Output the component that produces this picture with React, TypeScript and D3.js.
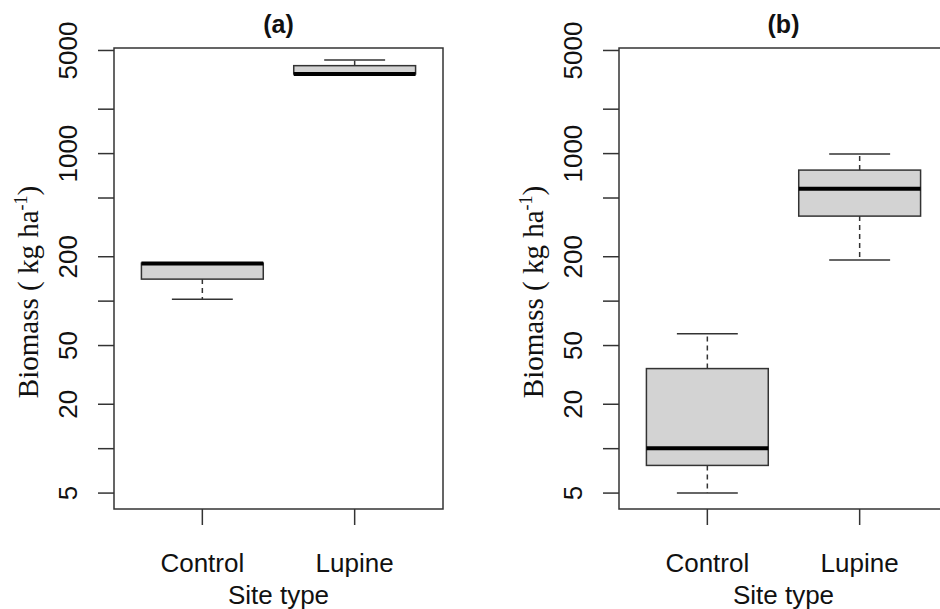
import React from "react";
import * as d3 from "d3";

// ---- data ----
const categories = ["Control", "Lupine"];
const panelTitles = ["(a)", "(b)"];
// five-number summaries per panel: [min, q1, median, q3, max]
const panelAStats = [
  [103, 141, 180, 181, 181],
  [3465, 3465, 3465, 3945, 4310],
];
const panelBStats = [
  [5.0, 7.7, 10.05, 34.9, 60],
  [190, 377, 577, 773, 993],
];
const yTicks = [5, 10, 20, 50, 100, 200, 500, 1000, 2000, 5000];
const yTickLabels = [5, 20, 50, 200, 1000, 5000];
const xAxisTitle = "Site type";

const W = 940;
const H = 609;
const TOP = 48;
const BOTTOM = 509;
const PW = 329;
const panelLefts = [114, 619];

const y = d3.scaleLog().domain([3.9, 5197]).range([BOTTOM, TOP]);

const AX = "#333333";
const SANS = "'Liberation Sans', Arial, sans-serif";
const SERIF = "'Liberation Serif', 'Times New Roman', serif";

function Panel({ left, title, stats }: { left: number; title: string; stats: number[][] }) {
  const right = left + PW;
  const x = d3.scalePoint<string>().domain(categories).range([left, right]).padding(0.58);
  const step = x.step();
  const bw = step * 0.8;
  const cw = step * 0.4;
  const cx = left + PW / 2;
  return (
    <g>
      {/* boxes */}
      {stats.map((s, i) => {
        const c = x(categories[i]) as number;
        const [mn, q1, md, q3, mx] = s;
        return (
          <g key={i}>
            {mx > q3 && (
              <>
                <line x1={c} x2={c} y1={y(q3)} y2={y(mx)} stroke={AX} strokeWidth={1.5} strokeDasharray="5,4" />
                <line x1={c - cw / 2} x2={c + cw / 2} y1={y(mx)} y2={y(mx)} stroke={AX} strokeWidth={1.5} />
              </>
            )}
            {mn < q1 && (
              <>
                <line x1={c} x2={c} y1={y(q1)} y2={y(mn)} stroke={AX} strokeWidth={1.5} strokeDasharray="5,4" />
                <line x1={c - cw / 2} x2={c + cw / 2} y1={y(mn)} y2={y(mn)} stroke={AX} strokeWidth={1.5} />
              </>
            )}
            <rect
              x={c - bw / 2}
              y={y(q3)}
              width={bw}
              height={Math.max(y(q1) - y(q3), 0.5)}
              fill="#d3d3d3"
              stroke={AX}
              strokeWidth={1.5}
            />
            <line x1={c - bw / 2} x2={c + bw / 2} y1={y(md)} y2={y(md)} stroke="#000" strokeWidth={4} />
          </g>
        );
      })}
      {/* frame */}
      <rect x={left} y={TOP} width={PW} height={BOTTOM - TOP} fill="none" stroke={AX} strokeWidth={1.5} />
      {/* y axis */}
      {yTicks.map((t) => (
        <line key={t} x1={left - 16} x2={left} y1={y(t)} y2={y(t)} stroke={AX} strokeWidth={1.5} />
      ))}
      {yTickLabels.map((t) => (
        <text
          key={t}
          transform={`translate(${left - 37},${y(t)}) rotate(-90)`}
          textAnchor="middle"
          fontFamily={SANS}
          fontSize={26}
          fill="#111"
        >
          {t}
        </text>
      ))}
      {/* x axis */}
      {categories.map((c) => (
        <g key={c}>
          <line x1={x(c)} x2={x(c)} y1={BOTTOM} y2={BOTTOM + 16} stroke={AX} strokeWidth={1.5} />
          <text x={x(c)} y={572} textAnchor="middle" fontFamily={SANS} fontSize={26} fill="#111">
            {c}
          </text>
        </g>
      ))}
      <text x={cx} y={604} textAnchor="middle" fontFamily={SANS} fontSize={26} fill="#111">
        {xAxisTitle}
      </text>
      {/* y title */}
      <text
        transform={`translate(${left - 76},${292}) rotate(-90)`}
        textAnchor="middle"
        fontFamily={SERIF}
        fontSize={29}
        fill="#111"
      >
        Biomass ( kg ha
        <tspan dy={-11} fontSize={18}>-1</tspan>
        <tspan dy={11}>)</tspan>
      </text>
      {/* title */}
      <text x={cx} y={33} textAnchor="middle" fontFamily={SANS} fontWeight="bold" fontSize={25} fill="#111">
        {title}
      </text>
    </g>
  );
}

export default function App() {
  return (
    <svg
      width={W}
      height={H}
      style={{ position: "absolute", left: 0, top: 0, background: "#fff" }}
      xmlns="http://www.w3.org/2000/svg"
    >
      <rect x={0} y={0} width={W} height={H} fill="#fff" />
      <Panel left={panelLefts[0]} title={panelTitles[0]} stats={panelAStats} />
      <Panel left={panelLefts[1]} title={panelTitles[1]} stats={panelBStats} />
    </svg>
  );
}
